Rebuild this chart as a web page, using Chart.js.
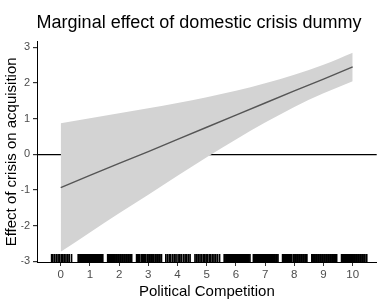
<!DOCTYPE html>
<html>
<head>
<meta charset="utf-8">
<script src="https://cdn.jsdelivr.net/npm/chart.js@4.4.1/dist/chart.umd.min.js"></script>
<style>
  html, body { margin: 0; padding: 0; background: #fff; }
</style>
</head>
<body>
<canvas id="chart" width="383" height="302"></canvas>
<script>
// values
var competition = [0, 1, 2, 3, 4, 5, 6, 7, 8, 9, 10];
var effect = [-0.93, -0.59, -0.25, 0.08, 0.42, 0.76, 1.10, 1.44, 1.78, 2.11, 2.45];
var upper = [0.87, 1.01, 1.15, 1.29, 1.44, 1.60, 1.78, 1.99, 2.23, 2.51, 2.85];
var lower = [-2.73, -2.19, -1.65, -1.13, -0.60, -0.08, 0.42, 0.89, 1.33, 1.71, 2.05];

var xTicks = [0, 1, 2, 3, 4, 5, 6, 7, 8, 9, 10];
var yTicks = [-3, -2, -1, 0, 1, 2, 3];

// observed (jittered) values of political competition, drawn as a rug
var rugX = [
  -0.31, -0.27, -0.21, -0.15, -0.09, -0.04, 0.02, 0.07, 0.12, 0.18, 0.24, 0.29, 0.37,
  0.60, 0.63, 0.67, 0.70, 0.74, 0.77, 0.81, 0.84, 0.88, 0.91, 0.95, 0.98, 1.02, 1.05, 1.09, 1.12, 1.16, 1.19, 1.23, 1.26, 1.30, 1.33, 1.37, 1.40, 1.44,
  1.61, 1.64, 1.68, 1.71, 1.75, 1.78, 1.82, 1.85, 1.89, 1.92, 1.96, 1.99, 2.03, 2.06, 2.10, 2.13, 2.17, 2.20, 2.24, 2.27, 2.31, 2.34, 2.38, 2.43,
  2.60, 2.63, 2.67, 2.70, 2.76, 2.79, 2.83, 2.86, 2.90, 2.96, 2.99, 3.03, 3.06, 3.10, 3.13, 3.17, 3.23, 3.26, 3.30, 3.33, 3.37, 3.40, 3.45,
  3.60, 3.66, 3.72, 3.77, 3.84, 3.90, 3.95, 4.02, 4.08, 4.13, 4.20, 4.26, 4.31, 4.37, 4.43,
  4.60, 4.66, 4.71, 4.77, 4.82, 4.88, 4.93, 4.98, 5.03, 5.09, 5.14, 5.20, 5.25, 5.31, 5.37, 5.44,
  5.60, 5.63, 5.67, 5.70, 5.74, 5.77, 5.81, 5.84, 5.88, 5.91, 5.95, 5.98, 6.02, 6.05, 6.09, 6.12, 6.16, 6.19, 6.23, 6.26, 6.30, 6.33, 6.37, 6.40, 6.44, 6.48,
  6.60, 6.63, 6.67, 6.70, 6.74, 6.77, 6.81, 6.84, 6.88, 6.91, 6.95, 6.98, 7.02, 7.05, 7.09, 7.12, 7.16, 7.19, 7.23, 7.26, 7.30, 7.33, 7.37, 7.40, 7.44,
  7.60, 7.63, 7.67, 7.70, 7.74, 7.77, 7.81, 7.84, 7.88, 7.91, 7.97, 8.02, 8.05, 8.09, 8.12, 8.16, 8.19, 8.23, 8.26, 8.30, 8.33, 8.37, 8.40, 8.43,
  8.60, 8.63, 8.67, 8.70, 8.74, 8.77, 8.81, 8.84, 8.88, 8.91, 8.95, 8.98, 9.02, 9.05, 9.09, 9.12, 9.16, 9.19, 9.23, 9.26, 9.30, 9.33, 9.37, 9.40, 9.45,
  9.62, 9.65, 9.69, 9.72, 9.76, 9.79, 9.83, 9.86, 9.90, 9.93, 9.97, 10.00, 10.04, 10.07, 10.11, 10.14, 10.18, 10.21, 10.25, 10.28, 10.32, 10.35, 10.39, 10.42, 10.48
];

function toPoints(ys) {
    return competition.map(function(x, i) { return { x: x, y: ys[i] }; });
}

var rugPlugin = {
    id: 'rug',
    afterDatasetsDraw: function(chart) {
        var ctx = chart.ctx, xs = chart.scales.x, bottom = chart.chartArea.bottom;
        ctx.save();
        ctx.strokeStyle = '#000';
        ctx.lineWidth = 1.7;
        for (var i = 0; i < rugX.length; i++) {
            var px = xs.getPixelForValue(rugX[i]);
            ctx.beginPath();
            ctx.moveTo(px, bottom);
            ctx.lineTo(px, bottom - 8);
            ctx.stroke();
        }
        ctx.restore();
    }
};

var font = 'Liberation Sans, Arial, Helvetica, sans-serif';

new Chart(document.getElementById('chart').getContext('2d'), {
    type: 'line',
    data: {
        datasets: [{
            // fitted marginal effect, drawn on top of the band
            data: toPoints(effect),
            borderColor: '#555555',
            borderWidth: 1.4,
            pointRadius: 0,
            fill: false
        }, {
            data: toPoints(lower),
            borderWidth: 0,
            pointRadius: 0,
            fill: false,
            cubicInterpolationMode: 'monotone'
        }, {
            data: toPoints(upper),
            borderWidth: 0,
            pointRadius: 0,
            backgroundColor: '#d3d3d3',
            fill: '-1',
            cubicInterpolationMode: 'monotone'
        }]
    },
    options: {
        responsive: false,
        animation: false,
        devicePixelRatio: 1,
        layout: { padding: { left: 21.3, right: 6.3, top: 0, bottom: 0 } },
        plugins: {
            legend: { display: false },
            tooltip: { enabled: false },
            title: {
                display: true,
                text: 'Marginal effect of domestic crisis dummy',
                color: '#000',
                font: { family: font, size: 18, weight: 'normal' },
                padding: { top: 12.5, bottom: 7.6 }
            }
        },
        scales: {
            x: {
                type: 'linear',
                min: -0.812,
                max: 10.822,
                afterFit: function(scale) {
                    scale.height = 40;
                    scale.paddingLeft = 0;
                    scale.paddingRight = 0;
                },
                afterBuildTicks: function(scale) {
                    scale.ticks = xTicks.map(function(v) { return { value: v }; });
                },
                border: { display: true, color: '#000', width: 1 },
                grid: { color: 'rgba(0,0,0,0)', tickColor: '#333', tickLength: 4, drawOnChartArea: false },
                ticks: { color: '#4d4d4d', font: { family: font, size: 11.5 }, padding: 2, maxRotation: 0 },
                title: {
                    display: true,
                    text: 'Political Competition',
                    color: '#000',
                    font: { family: font, size: 15 },
                    padding: { top: 0, bottom: 1.5 }
                }
            },
            y: {
                z: 1,
                min: -3.015,
                max: 3.157,
                afterFit: function(scale) {
                    scale.width = 15.7;
                },
                afterBuildTicks: function(scale) {
                    scale.ticks = yTicks.map(function(v) { return { value: v }; });
                },
                border: { display: true, color: '#000', width: 1 },
                grid: {
                    color: function(ctx) { return ctx.tick && ctx.tick.value === 0 ? '#000' : 'rgba(0,0,0,0)'; },
                    tickColor: '#333',
                    tickLength: 4,
                    lineWidth: 1.2
                },
                ticks: { color: '#4d4d4d', font: { family: font, size: 11 }, padding: 3 },
                title: {
                    display: true,
                    text: 'Effect of crisis on acquisition',
                    color: '#000',
                    font: { family: font, size: 15 },
                    padding: { top: -18.3, bottom: 0 }
                }
            }
        }
    },
    plugins: [rugPlugin]
});
</script>
</body>
</html>
